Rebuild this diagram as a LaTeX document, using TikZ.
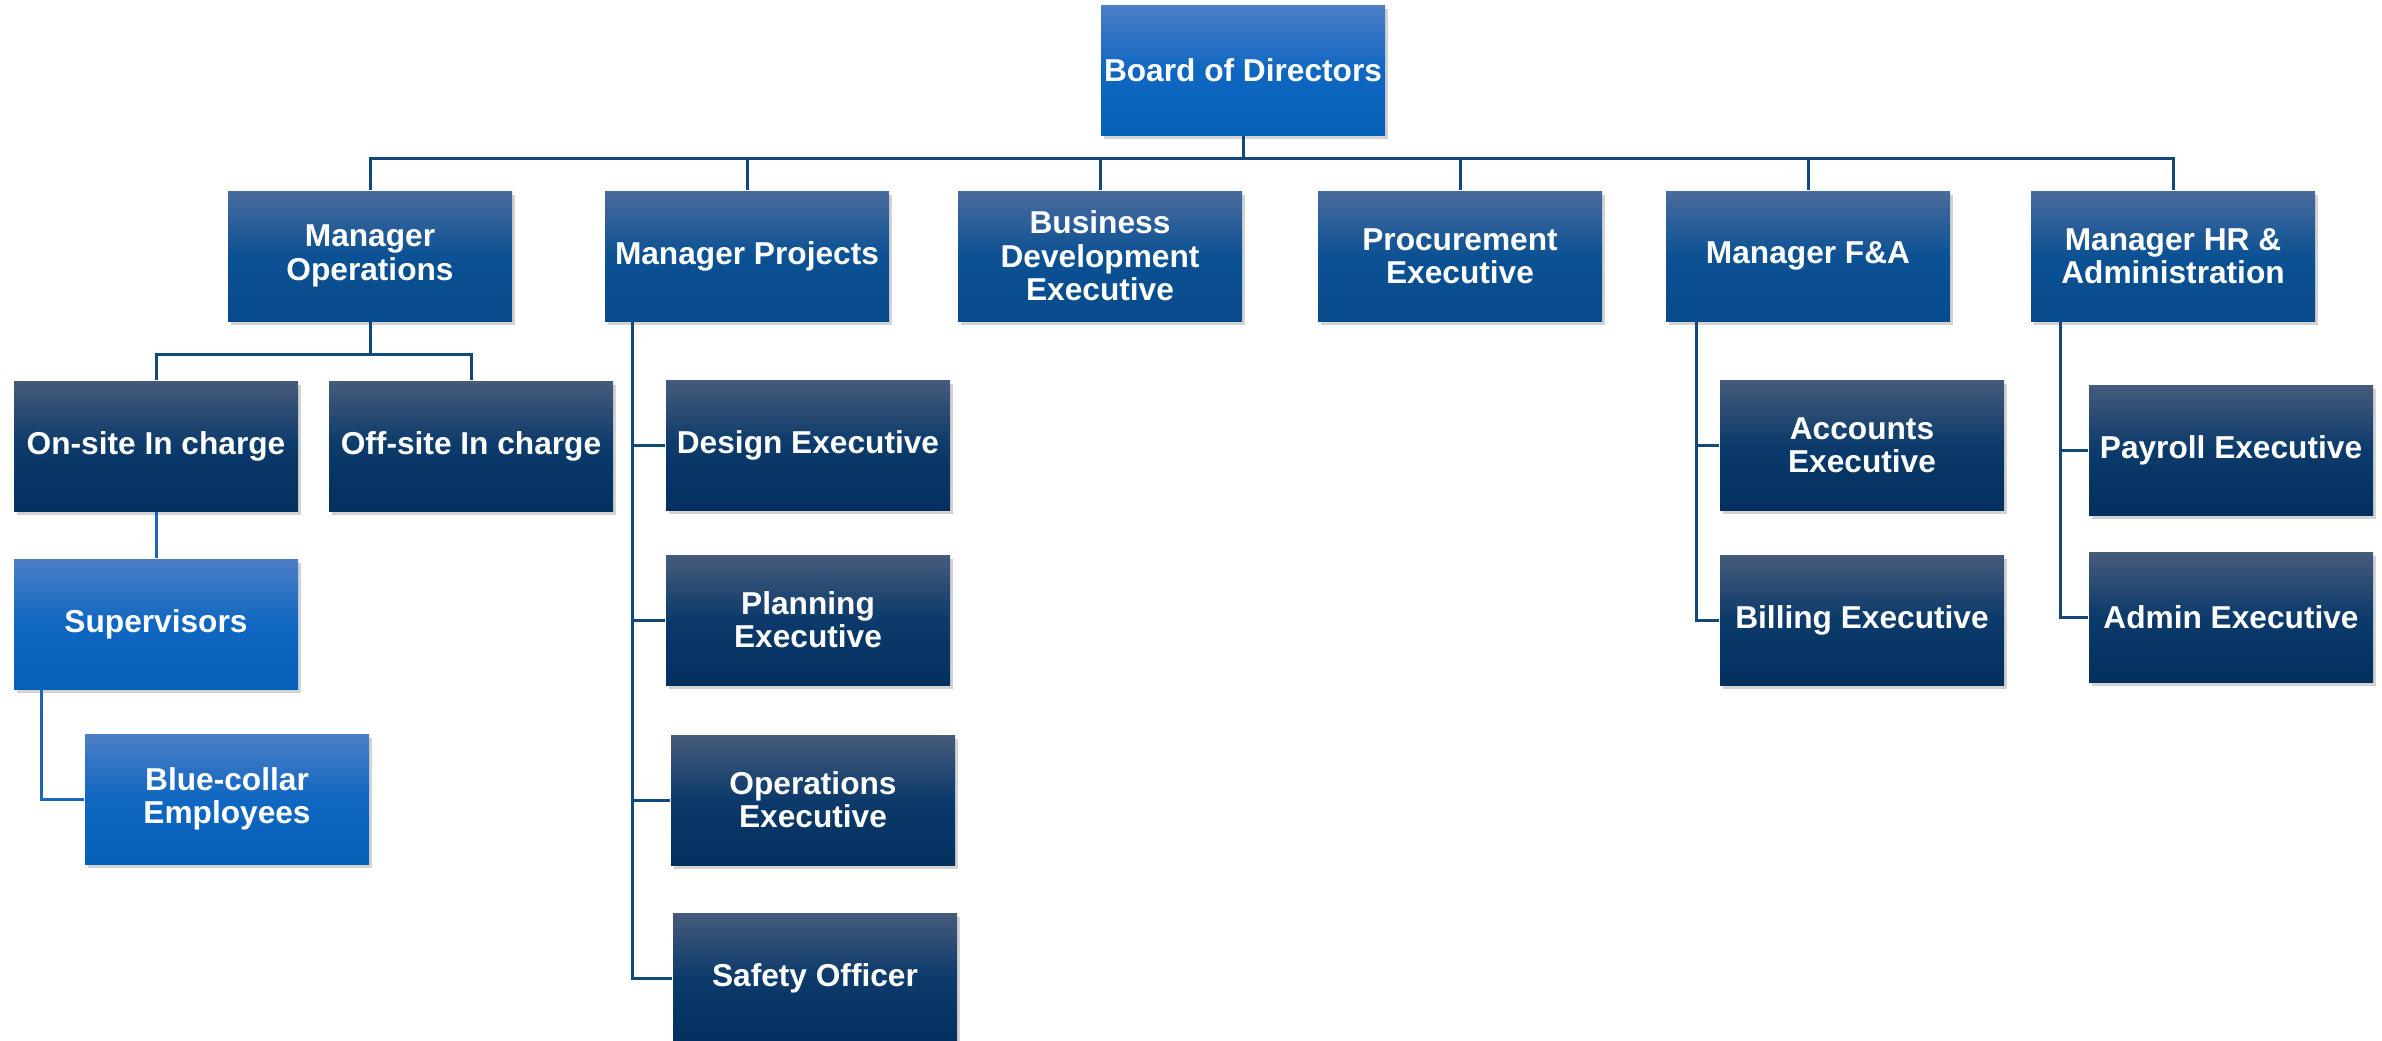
\documentclass[tikz,border=0pt]{standalone}
\usepackage{fontspec}
\setmainfont{Liberation Sans}
\usetikzlibrary{shadows}

\definecolor{linedark}{HTML}{12497D}
\definecolor{linelight}{HTML}{1A66BE}
\definecolor{lighttop}{HTML}{4C7EC6}
\definecolor{lightmid}{HTML}{0F67C1}
\definecolor{lightbot}{HTML}{0560B8}
\definecolor{midtop}{HTML}{4A6B9D}
\definecolor{midmid}{HTML}{0B5193}
\definecolor{midbot}{HTML}{084B8C}
\definecolor{darktop}{HTML}{475B7B}
\definecolor{darkmid}{HTML}{0B3A6B}
\definecolor{darkbot}{HTML}{02305F}

\tikzset{
    orgbox/.style={minimum width=85.2pt, minimum height=39pt, inner sep=0pt,
        align=center, text=white, font=\fontsize{9.5}{10}\selectfont\bfseries,
        drop shadow={opacity=0.35, shadow xshift=1pt, shadow yshift=-1.3pt}},
    lightbox/.style={orgbox, top color=lighttop, bottom color=lightbot, middle color=lightmid},
    midbox/.style={orgbox, top color=midtop, bottom color=midbot, middle color=midmid},
    darkbox/.style={orgbox, top color=darktop, bottom color=darkbot, middle color=darkmid},
    orgline/.style={draw=linedark, line width=0.9pt},
    subline/.style={draw=linelight, line width=0.9pt}
}

\begin{document}
\begin{tikzpicture}[x=0.3pt, y=-0.3pt]
            \useasboundingbox (0,0) rectangle (2382,1040);
            \node[lightbox] (board) at (1243,70) {Board of Directors};
            \node[midbox] (mops) at (370,256) {Manager\\Operations};
            \node[midbox] (mproj) at (747,256) {Manager Projects};
            \node[midbox] (bde) at (1100,256) {Business\\Development\\Executive};
            \node[midbox] (proc) at (1460,256) {Procurement\\Executive};
            \node[midbox] (mfa) at (1808,256) {Manager F\&A};
            \node[midbox] (mhr) at (2173,256) {Manager HR \&\\Administration};
            \node[darkbox] (onsite) at (156,446) {On-site In charge};
            \node[darkbox] (offsite) at (471,446) {Off-site In charge};
            \node[lightbox] (sup) at (156,624) {Supervisors};
            \node[lightbox] (blue) at (227,799) {Blue-collar\\Employees};
            \node[darkbox] (design) at (808,445) {Design Executive};
            \node[darkbox] (planning) at (808,620) {Planning\\Executive};
            \node[darkbox] (opsexec) at (813,800) {Operations\\Executive};
            \node[darkbox] (safety) at (815,978) {Safety Officer};
            \node[darkbox] (accounts) at (1862,445) {Accounts\\Executive};
            \node[darkbox] (billing) at (1862,620) {Billing Executive};
            \node[darkbox] (payroll) at (2231,450) {Payroll Executive};
            \node[darkbox] (admin) at (2231,617) {Admin Executive};
            \foreach \m in {mops,mproj,bde,proc,mfa,mhr}
                \draw[orgline] (board.south) -- ++(0,23) -| (\m.north);
            \foreach \s in {onsite,offsite}
                \draw[orgline] (mops.south) -- ++(0,33) -| (\s.north);
            \draw[subline] (onsite) -- (sup);
            \draw[subline] (sup.south west) ++(28,0) |- (blue.west);
            \foreach \e in {design,planning,opsexec,safety}
                \draw[orgline] (mproj.south west) ++(28,0) |- (\e.west);
            \foreach \e in {accounts,billing}
                \draw[orgline] (mfa.south west) ++(31,0) |- (\e.west);
            \foreach \e in {payroll,admin}
                \draw[orgline] (mhr.south west) ++(30,0) |- (\e.west);
        \end{tikzpicture}
\end{document}
